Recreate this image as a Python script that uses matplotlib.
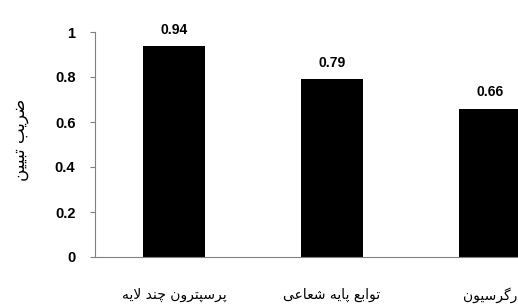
import matplotlib
matplotlib.use("Agg")
import matplotlib.pyplot as plt


def visual(s):
    # presentation forms are already joined, matplotlib draws left to right
    return s[::-1]


# پرسپترون چند لایه / توابع پایه شعاعی / رگرسیون (shaped presentation forms)
categories = [
    visual("\uFB58\uFEAE\uFEB3\uFB59\uFE98\uFEAE\uFEED\uFEE5 \uFB7C\uFEE8\uFEAA \uFEFB\uFBFE\uFEEA"),
    visual("\uFE97\uFEEE\uFE8D\uFE91\uFECA \uFB58\uFE8E\uFBFE\uFEEA \uFEB7\uFECC\uFE8E\uFECB\uFBFD"),
    visual("\uFEAD\uFB94\uFEAE\uFEB3\uFBFF\uFEEE\uFEE5"),
]
values = [0.94, 0.79, 0.66]
# ضریب تبیین
ylabel = visual("\uFEBF\uFEAE\uFBFE\uFE90 \uFE97\uFE92\uFBFF\uFBFF\uFEE6")
yticks = [0, 0.2, 0.4, 0.6, 0.8, 1]
ytick_labels = ["0", "0.2", "0.4", "0.6", "0.8", "1"]

fig = plt.figure(figsize=(5.18, 3.05), dpi=100)
# axes runs past the right edge, the original picture is cropped there
ax = fig.add_axes([95 / 518, 48 / 305, 474 / 518, 225 / 305])

x = list(range(len(values)))
bars = ax.bar(x, values, width=0.39, color="black")
ax.set_xlim(-0.5, len(values) - 0.5)
ax.set_ylim(0, 1)

for b, v in zip(bars, values):
    ax.text(b.get_x() + b.get_width() / 2, v + 0.04, f"{v:.2f}",
            ha="center", va="bottom", fontsize=10, fontweight="bold",
            family="Liberation Sans")

ax.set_yticks(yticks)
ax.set_yticklabels(ytick_labels, fontsize=10.5, fontweight="bold", family="Liberation Sans")
ax.set_xticks(x)
ax.set_xticklabels(categories, fontsize=10, family="DejaVu Sans")
ax.tick_params(axis="x", length=0, pad=22)
ax.tick_params(axis="y", length=3.6, width=0.8, color="#808080", pad=10.5)

for side in ["top", "right"]:
    ax.spines[side].set_visible(False)
for side in ["left", "bottom"]:
    ax.spines[side].set_color("#808080")
    ax.spines[side].set_linewidth(0.8)

ax.set_ylabel(ylabel, fontsize=12, family="DejaVu Sans")
ax.yaxis.set_label_coords(-0.14, 0.52)

fig.savefig("out.png", dpi=100)
